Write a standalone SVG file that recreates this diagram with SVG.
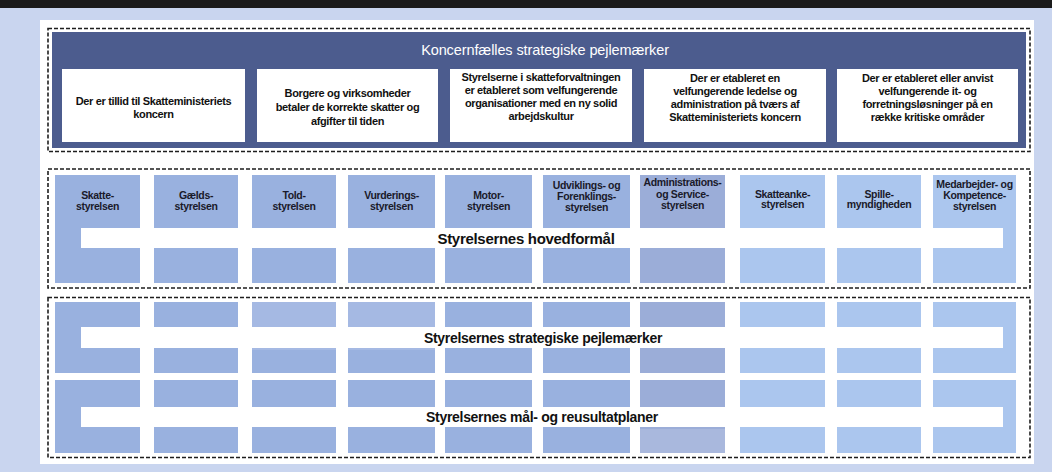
<svg xmlns="http://www.w3.org/2000/svg" width="1052" height="472" viewBox="0 0 1052 472">
<style>
.dash{fill:none;stroke:#1e1e1e;stroke-width:1.6;stroke-dasharray:4 2}
.box{fill:#ffffff}
.bt{font-family:"Liberation Sans",Arial,sans-serif;font-weight:bold;font-size:11px;letter-spacing:-0.35px;fill:#111;text-anchor:middle}
.ct{font-family:"Liberation Sans",Arial,sans-serif;font-weight:bold;font-size:10.5px;letter-spacing:-0.35px;fill:#1a1a2a;text-anchor:middle}
.band{fill:#ffffff}
.lt{font-family:"Liberation Sans",Arial,sans-serif;font-weight:bold;font-size:14px;letter-spacing:-0.3px;fill:#111;text-anchor:middle}
.ttl{font-family:"Liberation Sans",Arial,sans-serif;font-size:14.5px;letter-spacing:-0.1px;fill:#ffffff;text-anchor:middle}
.cA{fill:#99b1df}
.cB{fill:#9badd8}
.cC{fill:#abc6ee}
</style>
<rect x="0" y="0" width="1052" height="472" fill="#c9d5ef"/>
<rect x="0" y="0" width="1052" height="8" fill="#1b1b1b"/>
<rect x="40" y="20" width="994" height="444" fill="#ffffff"/>

<!-- Top group -->
<g id="koncern">
<rect class="dash" x="48" y="28.5" width="982" height="123"/>
<rect x="52" y="32" width="974" height="116" fill="#4c5c8e"/>
<text class="ttl" x="545" y="55">Koncernfælles strategiske pejlemærker</text>
</g>
<g id="pejl1">
<rect class="box" x="62" y="69" width="183" height="73"/>
<text class="bt" x="153.5" y="105">Der er tillid til Skatteministeriets</text>
<text class="bt" x="153.5" y="118">koncern</text>
</g>
<g id="pejl2">
<rect class="box" x="257" y="69" width="181" height="73"/>
<text class="bt" x="347.5" y="97">Borgere og virksomheder</text>
<text class="bt" x="347.5" y="111">betaler de korrekte skatter og</text>
<text class="bt" x="347.5" y="125">afgifter til tiden</text>
</g>
<g id="pejl3">
<rect class="box" x="450" y="69" width="182" height="73"/>
<text class="bt" x="541" y="81">Styrelserne i skatteforvaltningen</text>
<text class="bt" x="541" y="94">er etableret som velfungerende</text>
<text class="bt" x="541" y="107">organisationer med en ny solid</text>
<text class="bt" x="541" y="120">arbejdskultur</text>
</g>
<g id="pejl4">
<rect class="box" x="644" y="69" width="182" height="73"/>
<text class="bt" x="735" y="82">Der er etableret en</text>
<text class="bt" x="735" y="95">velfungerende ledelse og</text>
<text class="bt" x="735" y="108">administration på tværs af</text>
<text class="bt" x="735" y="121">Skatteministeriets koncern</text>
</g>
<g id="pejl5">
<rect class="box" x="837" y="69" width="181" height="73"/>
<text class="bt" x="927.5" y="82">Der er etableret eller anvist</text>
<text class="bt" x="927.5" y="95">velfungerende it- og</text>
<text class="bt" x="927.5" y="108">forretningsløsninger på en</text>
<text class="bt" x="927.5" y="121">række kritiske områder</text>
</g>

<!-- Middle group: styrelser -->
<g id="hovedformaal">
<rect class="dash" x="48" y="169" width="982" height="119"/>
<rect class="cA" x="55" y="175" width="85" height="108"/>
<rect class="cA" x="154" y="175" width="84" height="108"/>
<rect class="cA" x="252" y="175" width="84" height="108"/>
<rect class="cA" x="348" y="175" width="87" height="108"/>
<rect class="cA" x="445" y="175" width="87" height="108"/>
<rect class="cA" x="543" y="175" width="87" height="108"/>
<rect class="cB" x="640" y="175" width="85" height="108"/>
<rect class="cC" x="740" y="175" width="85" height="108"/>
<rect class="cC" x="837" y="175" width="84" height="108"/>
<rect class="cC" x="933" y="175" width="83" height="108"/>
<rect class="band" x="81" y="228" width="922" height="20"/>
<text class="lt" x="526" y="244" style="font-size:15px">Styrelsernes hovedformål</text>
</g>
<g id="skat"><text class="ct" x="97.5" y="199">Skatte-</text><text class="ct" x="97.5" y="210">styrelsen</text></g>
<g id="gaeld"><text class="ct" x="196" y="199">Gælds-</text><text class="ct" x="196" y="210">styrelsen</text></g>
<g id="told"><text class="ct" x="294" y="199">Told-</text><text class="ct" x="294" y="210">styrelsen</text></g>
<g id="vurdering"><text class="ct" x="391.5" y="199">Vurderings-</text><text class="ct" x="391.5" y="210">styrelsen</text></g>
<g id="motor"><text class="ct" x="488.5" y="199">Motor-</text><text class="ct" x="488.5" y="210">styrelsen</text></g>
<g id="udvikling"><text class="ct" x="586.5" y="189">Udviklings- og</text><text class="ct" x="586.5" y="200">Forenklings-</text><text class="ct" x="586.5" y="211">styrelsen</text></g>
<g id="administration"><text class="ct" x="682.5" y="186">Administrations-</text><text class="ct" x="682.5" y="198">og Service-</text><text class="ct" x="682.5" y="209">styrelsen</text></g>
<g id="skatteanke"><text class="ct" x="782.5" y="198">Skatteanke-</text><text class="ct" x="782.5" y="208">styrelsen</text></g>
<g id="spil"><text class="ct" x="879" y="198">Spille-</text><text class="ct" x="879" y="208">myndigheden</text></g>
<g id="medarbejder"><text class="ct" x="974.5" y="188">Medarbejder- og</text><text class="ct" x="974.5" y="199">Kompetence-</text><text class="ct" x="974.5" y="210">styrelsen</text></g>

<!-- Bottom group -->
<g id="strategiske">
<rect class="dash" x="48" y="297.5" width="982" height="160"/>
<rect class="cA" x="55" y="302" width="85" height="71"/>
<rect class="cA" x="154" y="302" width="84" height="71"/>
<rect x="252" y="302" width="84" height="71" fill="#a5b9e3"/>
<rect class="cA" x="252" y="350" width="84" height="23"/>
<rect x="348" y="302" width="87" height="71" fill="#a5b9e3"/>
<rect class="cA" x="348" y="350" width="87" height="23"/>
<rect class="cA" x="445" y="302" width="87" height="71"/>
<rect class="cA" x="543" y="302" width="87" height="71"/>
<rect class="cB" x="640" y="302" width="85" height="71"/>
<rect class="cC" x="740" y="302" width="85" height="71"/>
<rect class="cC" x="837" y="302" width="84" height="71"/>
<rect class="cC" x="933" y="302" width="83" height="71"/>
<rect class="band" x="81" y="327" width="922" height="21"/>
<text class="lt" x="543" y="343">Styrelsernes strategiske pejlemærker</text>
</g>
<g id="maalplaner">
<rect class="cA" x="55" y="380" width="85" height="73"/>
<rect class="cA" x="154" y="380" width="84" height="73"/>
<rect class="cA" x="252" y="380" width="84" height="73"/>
<rect class="cA" x="348" y="380" width="87" height="73"/>
<rect class="cA" x="445" y="380" width="87" height="73"/>
<rect class="cA" x="543" y="380" width="87" height="73"/>
<rect class="cB" x="640" y="380" width="85" height="73"/>
<rect x="640" y="429" width="85" height="24" fill="#a9b8dd"/>
<rect class="cC" x="740" y="380" width="85" height="73"/>
<rect class="cC" x="837" y="380" width="84" height="73"/>
<rect class="cC" x="933" y="380" width="83" height="73"/>
<rect class="band" x="81" y="407" width="922" height="20"/>
<text class="lt" x="542" y="422">Styrelsernes mål- og reusultatplaner</text>
</g>
</svg>
